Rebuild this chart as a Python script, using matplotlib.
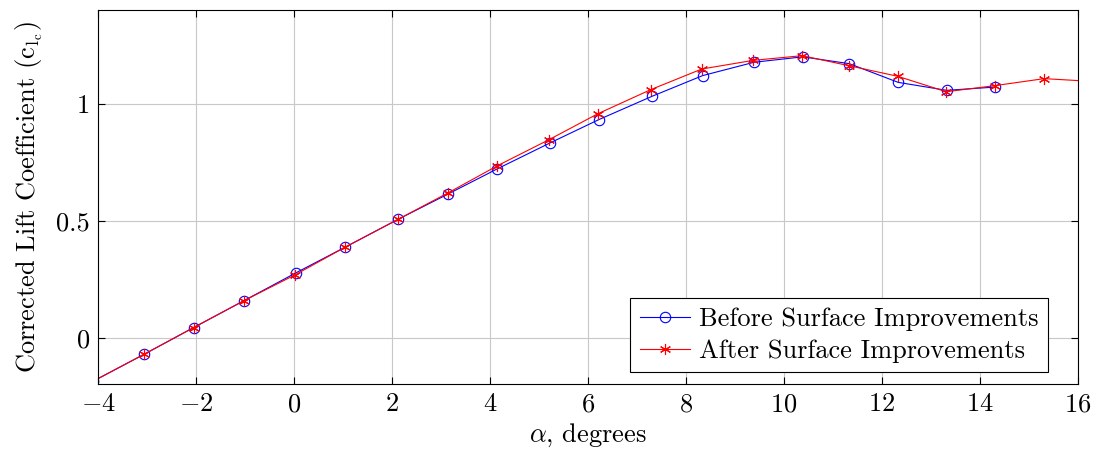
import numpy as np
import matplotlib
matplotlib.use("Agg")
import matplotlib.pyplot as plt

plt.rcParams['font.family'] = 'cmr10'
plt.rcParams['mathtext.fontset'] = 'cm'
plt.rcParams['axes.formatter.use_mathtext'] = True

# angle of attack (deg) and corrected lift coefficient
alpha_before = [-4.1, -3.06, -2.05, -1.03, 0.05, 1.04, 2.13, 3.15, 4.15, 5.22,
                6.22, 7.30, 8.34, 9.39, 10.38, 11.33, 12.33, 13.32, 14.31]
cl_before = [-0.185, -0.07, 0.044, 0.158, 0.279, 0.387, 0.507, 0.615, 0.722, 0.832,
             0.932, 1.031, 1.12, 1.177, 1.2, 1.171, 1.091, 1.057, 1.071]

alpha_after = [-4.1, -3.06, -2.05, -1.03, 0.02, 1.04, 2.13, 3.15, 4.15, 5.2,
               6.2, 7.28, 8.32, 9.37, 10.37, 11.33, 12.32, 13.31, 14.3, 15.31, 16.3]
cl_after = [-0.185, -0.07, 0.044, 0.158, 0.269, 0.387, 0.507, 0.62, 0.735, 0.846,
            0.957, 1.06, 1.148, 1.185, 1.205, 1.162, 1.117, 1.051, 1.077, 1.107, 1.095]

fig = plt.figure(figsize=(10.98, 4.55), dpi=100)
ax = fig.add_axes([0.0893, 0.156, 0.8925, 0.822])

ax.plot(alpha_before, cl_before, color='blue', lw=0.8, marker='o', ms=7.5,
        mfc='none', mec='blue', mew=0.8, label='Before Surface Improvements')
ax.plot(alpha_after, cl_after, color='red', lw=0.8, marker=(6, 2, 0), ms=8,
        mec='red', mew=0.8, label='After Surface Improvements')

ax.set_xlim(-4, 16)
ax.set_ylim(-0.197, 1.4)
ax.set_xticks(np.arange(-4, 17, 2))
ax.set_yticks([0, 0.5, 1])
ax.set_yticklabels(['0', '0.5', '1'])
ax.grid(True, color='#c8c8c8', lw=0.8)
ax.tick_params(direction='in', top=True, right=True, labelsize=19, length=5, pad=6)
for s in ax.spines.values():
    s.set_linewidth(0.8)

ax.set_xlabel(r'$\alpha$, degrees', fontsize=19, labelpad=4)
ax.set_ylabel(r'Corrected Lift Coefficient ($\mathrm{c_{l_c}}$)', fontsize=19, labelpad=8)

leg = ax.legend(loc='lower right', bbox_to_anchor=(0.969, 0.032), borderaxespad=0,
                fontsize=19, fancybox=False, edgecolor='black', framealpha=1,
                handlelength=1.9, handletextpad=0.35, borderpad=0.35, labelspacing=0.3)
leg.get_frame().set_linewidth(0.8)

fig.savefig('out.png', dpi=100)
